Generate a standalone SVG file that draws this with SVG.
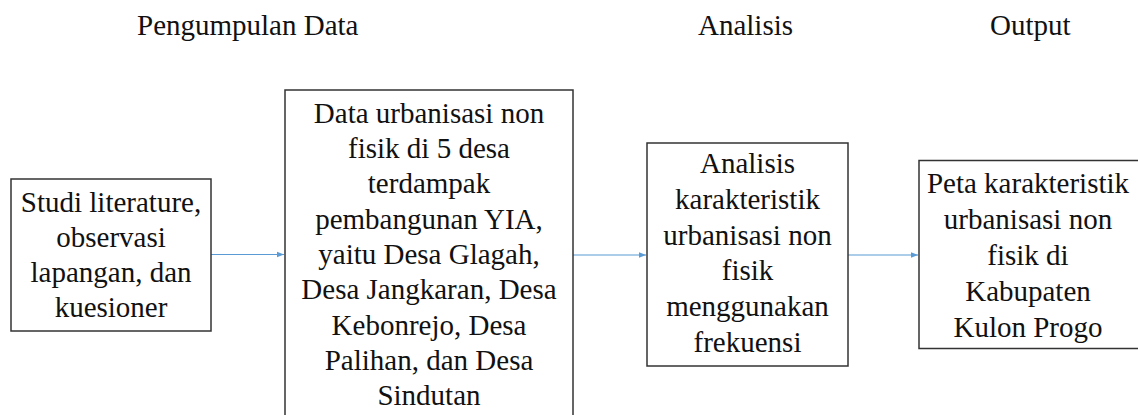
<svg xmlns="http://www.w3.org/2000/svg" width="1138" height="415" viewBox="0 0 1138 415">
<style>
.t{font-family:'Liberation Serif','Times New Roman',Times,'Nimbus Roman','Nimbus Roman No9 L',Tinos,'DejaVu Serif','Noto Serif',FreeSerif,serif;font-size:29px;fill:#111}
.c{text-anchor:middle}
.box{fill:#fff;stroke:#333;stroke-width:1.5}
.arr{stroke:#5B9BD5;stroke-width:1.2;fill:none;marker-end:url(#ah)}
</style>
<defs>
<marker id="ah" markerWidth="8" markerHeight="8" refX="7" refY="4" orient="auto" markerUnits="userSpaceOnUse">
<path d="M0,1.2 L7,4 L0,6.8 Z" fill="#5B9BD5"/>
</marker>
</defs>
<g id="headers" class="t">
<text x="137" y="35">Pengumpulan Data</text>
<text x="698" y="35">Analisis</text>
<text x="990" y="35">Output</text>
</g>
<g id="connectors">
<line class="arr" x1="211" y1="254.5" x2="284" y2="254.5"/>
<line class="arr" x1="573" y1="255" x2="646" y2="255"/>
<line class="arr" x1="848" y1="255" x2="918" y2="255"/>
</g>
<g id="node1" class="t">
<rect class="box" x="11" y="179" width="200" height="152"/>
<text class="c" x="111" y="211.7">Studi literature,</text>
<text class="c" x="111" y="246.7">observasi</text>
<text class="c" x="111" y="281.7">lapangan, dan</text>
<text class="c" x="111" y="316.7">kuesioner</text>
</g>
<g id="node2" class="t">
<rect class="box" x="285" y="90" width="288" height="340"/>
<text class="c" x="429" y="122.7">Data urbanisasi non</text>
<text class="c" x="429" y="158">fisik di 5 desa</text>
<text class="c" x="429" y="193.3">terdampak</text>
<text class="c" x="429" y="228.6">pembangunan YIA,</text>
<text class="c" x="429" y="263.9">yaitu Desa Glagah,</text>
<text class="c" x="429" y="299.2">Desa Jangkaran, Desa</text>
<text class="c" x="429" y="334.5">Kebonrejo, Desa</text>
<text class="c" x="429" y="369.8">Palihan, dan Desa</text>
<text class="c" x="429" y="405.1">Sindutan</text>
</g>
<g id="node3" class="t">
<rect class="box" x="647" y="143" width="201" height="223"/>
<text class="c" x="747.5" y="173.3">Analisis</text>
<text class="c" x="747.5" y="209">karakteristik</text>
<text class="c" x="747.5" y="244.7">urbanisasi non</text>
<text class="c" x="747.5" y="280.4">fisik</text>
<text class="c" x="747.5" y="316.1">menggunakan</text>
<text class="c" x="747.5" y="351.8">frekuensi</text>
</g>
<g id="node4" class="t">
<rect class="box" x="919" y="160.5" width="222" height="188"/>
<text class="c" x="1028" y="192.7">Peta karakteristik</text>
<text class="c" x="1028" y="228.7">urbanisasi non</text>
<text class="c" x="1028" y="264.7">fisik di</text>
<text class="c" x="1028" y="300.7">Kabupaten</text>
<text class="c" x="1028" y="336.7">Kulon Progo</text>
</g>
</svg>
